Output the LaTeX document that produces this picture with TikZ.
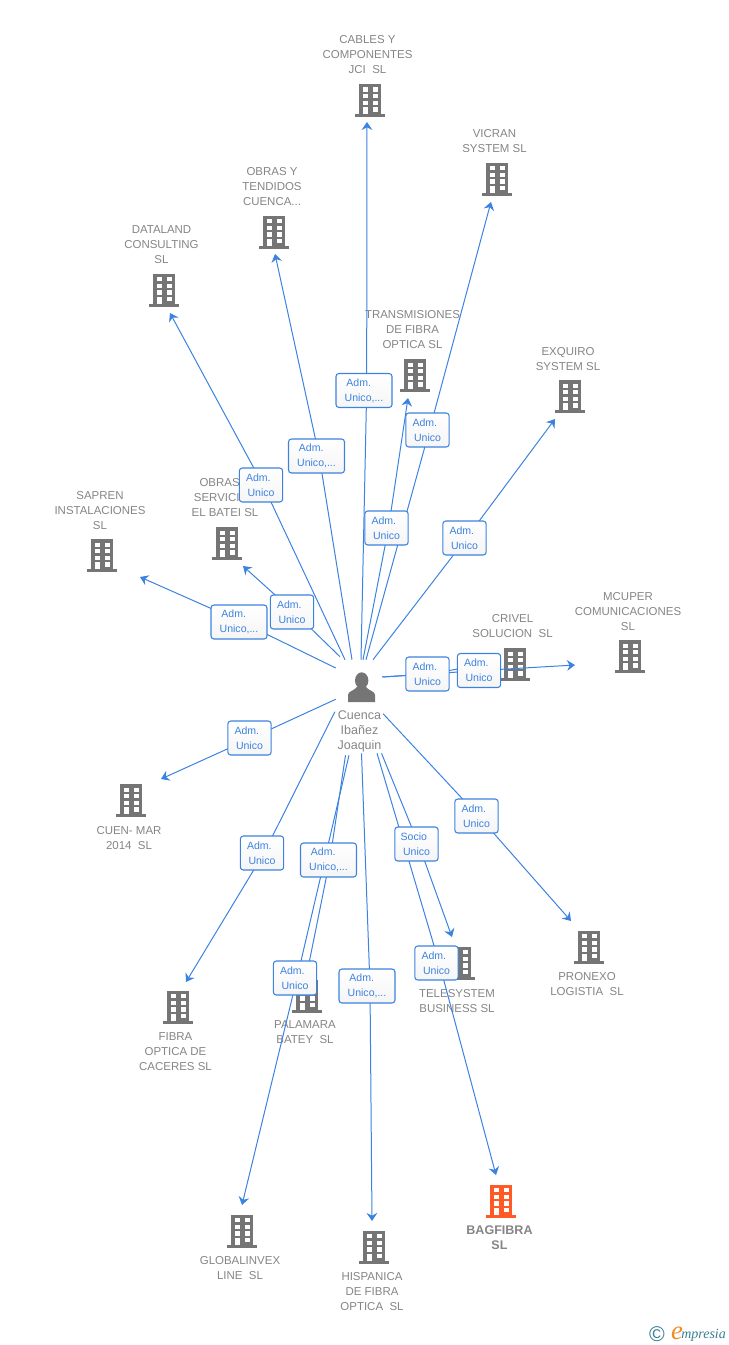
\documentclass[tikz,border=0pt]{standalone}
\usepackage{fontspec}
\setmainfont{Liberation Sans}
\newfontfamily\logofont{Liberation Serif}
\usetikzlibrary{arrows.meta}
\pgfdeclarelayer{top}
\pgfsetlayers{main,top}
\definecolor{bldggray}{HTML}{757575}
\definecolor{bagorange}{HTML}{FF5A26}
\definecolor{textgray}{HTML}{858585}
\definecolor{linkblue}{HTML}{3C82E0}
\definecolor{logoteal}{HTML}{3A7F94}
\definecolor{logoorange}{HTML}{F08A24}
\tikzset{
	bldg/.style={inner sep=0pt, outer sep=0pt, minimum width=24pt, minimum height=25pt,
		path picture={
			\begin{scope}[shift={(path picture bounding box.center)}]
				\fill[#1] (-11,-16.5) rectangle (11,14);
				\fill[#1] (-15,13.5) rectangle (15,16.5);
				\foreach \wy in {-13,-6.5,0.2}{
					\fill[white] (-7.5,\wy) rectangle ++(5,4.4);
					\fill[white] (2.5,\wy) rectangle ++(5,4.4);
				}
				\fill[white] (-7.5,6.8) rectangle (-2.5,13.5);
				\fill[white] (2.5,6.8) rectangle (7.5,11.2);
			\end{scope}
		}},
	bldg/.default=bldggray,
	bldglabel/.style={text=textgray, align=center, inner sep=0pt, yshift=-0.75pt, font=\fontsize{8.6}{11.25}\selectfont},
	admbox/.style={draw=linkblue, line width=0.8pt, rounded corners=2.2pt, top color=white, bottom color=black!4,
		minimum width=32.5pt, minimum height=25.5pt, inner sep=0pt, align=center, text=linkblue,
		font=\fontsize{7.9}{11.25}\selectfont},
	admwide/.style={admbox, minimum width=42pt},
	link/.style={draw=linkblue, line width=0.75pt, -{Stealth[length=6pt, width=8pt, inset=2pt]}}
}
\begin{document}
\begin{tikzpicture}[x=0.75pt, y=-0.75pt]
	\useasboundingbox (0,0) rectangle (728,1345);

	% labels
	\node[bldglabel] (namecables) at (367.5,54) {CABLES Y\\COMPONENTES\\JCI\ \ SL};
	\node[bldglabel] (namevicran) at (494.5,140.5) {VICRAN\\SYSTEM SL};
	\node[bldglabel] (nameobrasy) at (272,186) {OBRAS Y\\TENDIDOS\\CUENCA...};
	\node[bldglabel] (namedataland) at (161.5,244) {DATALAND\\CONSULTING\\SL};
	\node[bldglabel] (nametrans) at (412.5,329) {TRANSMISIONES\\DE FIBRA\\OPTICA SL};
	\node[bldglabel] (nameexquiro) at (568,358.5) {EXQUIRO\\SYSTEM SL};
	\node[bldglabel] (nameservicios) at (225,497) {OBRAS Y\\SERVICIOS\\EL BATEI SL};
	\node[bldglabel] (namesapren) at (100,510) {SAPREN\\INSTALACIONES\\SL};
	\node[bldglabel] (namecrivel) at (512.5,625) {CRIVEL\\SOLUCION\ \ SL};
	\node[bldglabel] (namemcuper) at (628,611) {MCUPER\\COMUNICACIONES\\SL};
	\node[bldglabel] (namecuen) at (129,837) {CUEN- MAR\\2014\ \ SL};
	\node[bldglabel] (namefibra) at (175.5,1051) {FIBRA\\OPTICA DE\\CACERES SL};
	\node[bldglabel] (namepalamara) at (305,1031.5) {PALAMARA\\BATEY\ \ SL};
	\node[bldglabel] (nametele) at (457,1000) {TELESYSTEM\\BUSINESS SL};
	\node[bldglabel] (namepronexo) at (587,983) {PRONEXO\\LOGISTIA\ \ SL};
	\node[bldglabel, font=\fontsize{9.4}{11.25}\selectfont\bfseries] (namebag) at (499.5,1237) {BAGFIBRA\\SL};
	\node[bldglabel] (nameglobal) at (240,1267) {GLOBALINVEX\\LINE\ \ SL};
	\node[bldglabel] (namehisp) at (372,1291) {HISPANICA\\DE FIBRA\\OPTICA\ \ SL};

	% buildings
	\node[bldg] (cables) at (370,100.5) {};
	\node[bldg] (vicran) at (497,179) {};
	\node[bldg] (obrasy) at (274,232) {};
	\node[bldg] (dataland) at (164,290) {};
	\node[bldg] (trans) at (415,375.5) {};
	\node[bldg] (exquiro) at (570,396.5) {};
	\node[bldg] (servicios) at (227,543.5) {};
	\node[bldg] (sapren) at (102,555.5) {};
	\node[bldg] (crivel) at (515,664.5) {};
	\node[bldg] (mcuper) at (630,656.5) {};
	\node[bldg] (cuen) at (131,800.5) {};
	\node[bldg] (fibra) at (178,1007) {};
	\node[bldg] (palamara) at (307,996) {};
	\node[bldg] (tele) at (460,963) {};
	\node[bldg] (pronexo) at (589,947) {};
	\node[bldg=bagorange] (bag) at (501,1201) {};
	\node[bldg] (global) at (242,1231) {};
	\node[bldg] (hisp) at (374,1247) {};

	% person
	\node[inner sep=0pt, minimum width=36pt, minimum height=31.5pt,
		path picture={
			\begin{scope}[shift={(path picture bounding box.center)}]
				\fill[bldggray] (1.7,-0.5) ellipse (6.7 and 8.2);
				\fill[bldggray] (-12,21) -- (-12,14) .. controls (-12,10) and (-6,10) .. (-3,6)
					-- (6,6) .. controls (9,10) and (15,10) .. (15,14) -- (15,21) -- cycle;
			\end{scope}
		}] (cuenca) at (360,681) {};
	\node[bldglabel, font=\fontsize{9.4}{11.25}\selectfont, minimum width=35pt, minimum height=33.75pt] (cuencaname) at (359.5,730.5) {Cuenca\\Ibañez\\Joaquin};

	% boxes
	\begin{pgfonlayer}{top}
		\node[admwide] (admcables) at (364,390.5) {Adm.\hspace*{8pt}\\Unico,...};
		\node[admbox] (admvicran) at (427.5,430) {Adm.\hspace*{4pt}\\Unico};
		\node[admwide] (admobrasy) at (316.5,456) {Adm.\hspace*{8pt}\\Unico,...};
		\node[admbox] (admdataland) at (261,485) {Adm.\hspace*{4pt}\\Unico};
		\node[admbox] (admtrans) at (386.5,528) {Adm.\hspace*{4pt}\\Unico};
		\node[admbox] (admexquiro) at (464.5,538) {Adm.\hspace*{4pt}\\Unico};
		\node[admbox] (admservicios) at (292,612) {Adm.\hspace*{4pt}\\Unico};
		\node[admwide] (admsapren) at (239,622) {Adm.\hspace*{8pt}\\Unico,...};
		\node[admbox] (admcrivel) at (427.5,674) {Adm.\hspace*{4pt}\\Unico};
		\node[admbox] (admmcuper) at (479,670.5) {Adm.\hspace*{4pt}\\Unico};
		\node[admbox] (admcuen) at (249.5,738) {Adm.\hspace*{4pt}\\Unico};
		\node[admbox] (admfibra) at (262,853) {Adm.\hspace*{4pt}\\Unico};
		\node[admwide] (admpalamara) at (328.5,860) {Adm.\hspace*{8pt}\\Unico,...};
		\node[admbox] (admtele) at (416.5,844) {Socio\hspace*{4pt}\\Unico};
		\node[admbox] (admpronexo) at (476.5,816) {Adm.\hspace*{4pt}\\Unico};
		\node[admbox] (admglobal) at (295,978) {Adm.\hspace*{4pt}\\Unico};
		\node[admwide] (admhisp) at (367,986) {Adm.\hspace*{8pt}\\Unico,...};
		\node[admbox] (admbag) at (436.5,963) {Adm.\hspace*{4pt}\\Unico};
	\end{pgfonlayer}

	% arrow ends
	\coordinate (tipcables) at (367,122);
	\coordinate (tipvicran) at (491,202);
	\coordinate (tipobrasy) at (275,254);
	\coordinate (tipdataland) at (170,313);
	\coordinate (tiptrans) at (408,398);
	\coordinate (tipexquiro) at (555,419);
	\coordinate (tipservicios) at (243,566);
	\coordinate (tipsapren) at (140,577);
	\coordinate (tipcrivel) at (497,662);
	\coordinate (tipmcuper) at (575,665);
	\coordinate (tipcuen) at (161,779);
	\coordinate (tipfibra) at (186,982);
	\coordinate (tippalamara) at (304,988);
	\coordinate (tiptele) at (452,937);
	\coordinate (tippronexo) at (571,921);
	\coordinate (tipglobal) at (242,1205);
	\coordinate (tiphisp) at (372,1221);
	\coordinate (tipbag) at (496,1175);

	% links, each one bends under its box
	\path[link] ([shift={(1,0)}]cuenca.north) -- ([xshift=2pt]admcables.center) -- (tipcables);
	\path[link] ([shift={(6,0)}]cuenca.north) -- ([xshift=1.5pt]admvicran.center) -- (tipvicran);
	\path[link] ([shift={(-8,0)}]cuenca.north) -- ([xshift=2pt]admobrasy.center) -- (tipobrasy);
	\path[link] ([shift={(-15,0)}]cuenca.north) -- ([xshift=1.5pt]admdataland.center) -- (tipdataland);
	\path[link] ([shift={(3,0)}]cuenca.north) -- ([xshift=1.5pt]admtrans.center) -- (tiptrans);
	\path[link] ([shift={(13,0)}]cuenca.north) -- ([xshift=1.5pt]admexquiro.center) -- (tipexquiro);
	\path[link] ([shift={(-20,-3)}]cuenca.north) -- ([xshift=1.5pt]admservicios.center) -- (tipservicios);
	\path[link] ([shift={(0,-13)}]cuenca.west) -- ([xshift=2pt]admsapren.center) -- (tipsapren);
	\path[link] ([shift={(-2,-4)}]cuenca.east) -- ([xshift=1.5pt]admcrivel.center) -- (tipcrivel);
	\path[link] ([shift={(-2,-4)}]cuenca.east) -- ([xshift=1.5pt]admmcuper.center) -- (tipmcuper);
	\path[link] ([shift={(0,-3)}]cuenca.south west) -- ([xshift=1.5pt]admcuen.center) -- (tipcuen);
	\path[link] ([shift={(-1,3)}]cuencaname.north west) -- ([xshift=1.5pt]admfibra.center) -- (tipfibra);
	\path[link] ([shift={(-14,1)}]cuencaname.south) -- ([xshift=1pt]admpalamara.center) -- (tippalamara);
	\path[link] ([shift={(22,-1)}]cuencaname.south) -- ([xshift=1.5pt]admtele.center) -- (tiptele);
	\path[link] ([shift={(0,5)}]cuencaname.north east) -- ([xshift=1.5pt]admpronexo.center) -- (tippronexo);
	\path[link] ([shift={(-10.5,1)}]cuencaname.south) -- ([xshift=1.5pt]admglobal.center) -- (tipglobal);
	\path[link] ([shift={(2,-1)}]cuencaname.south) -- ([xshift=2.25pt]admhisp.center) -- (tiphisp);
	\path[link] ([shift={(17.5,-1)}]cuencaname.south) -- ([xshift=2pt]admbag.center) -- (tipbag);

	% logo
	\node[inner sep=0pt, text=logoteal, font=\fontsize{16}{16}\selectfont] (logoc) at (657,1334) {\textcopyright};
	\node[inner sep=0pt, text=logoorange, font=\logofont\itshape\fontsize{20}{20}\selectfont] (logoe) at (677,1333) {e};
	\node[inner sep=0pt, text=logoteal, font=\logofont\itshape\fontsize{10.5}{11}\selectfont, anchor=west] (logotext) at (681,1335) {mpresia};
\end{tikzpicture}
\end{document}
